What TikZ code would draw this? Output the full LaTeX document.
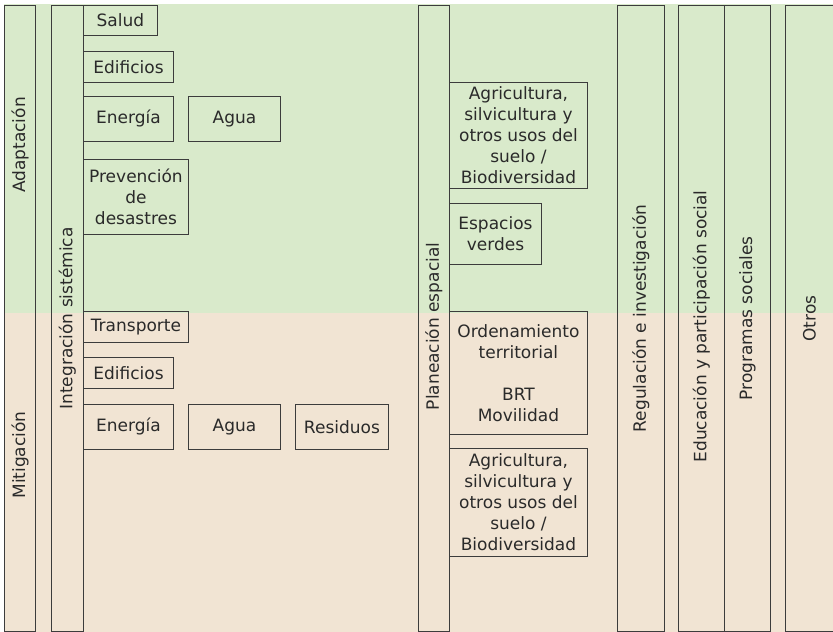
\documentclass[tikz,border=0pt]{standalone}
\usepackage{fontspec}
\setmainfont{DejaVu Sans}
\usetikzlibrary{positioning,calc}
\definecolor{adaptgreen}{HTML}{D9EACB}
\definecolor{mitigbeige}{HTML}{F1E4D3}
\definecolor{linegray}{HTML}{3C3C3C}
\definecolor{textgray}{HTML}{2A2A2A}

\begin{document}
\begin{tikzpicture}[x=1pt,y=-1pt,
  bar/.style={draw=linegray,line width=0.9pt,anchor=north west,inner sep=0pt,
    minimum width=#1,minimum height=626pt},
  item/.style={draw=linegray,line width=0.9pt,anchor=north west,inner sep=0pt,
    align=center,text=textgray,font=\fontsize{17}{21}\selectfont},
  side label/.style={rotate=90,inner sep=0pt,text=textgray,
    font=\fontsize{17}{21}\selectfont}]

\useasboundingbox (0,0) rectangle (833,632);
\fill[adaptgreen] (4,4) rectangle (833,313);
\fill[mitigbeige] (4,313) rectangle (833,632);

% columns
\node[bar=31pt](Adap) at (4,5) {};
\node[bar=32pt](IntSis) at (51,5) {};
\node[bar=31pt](Plan) at (418,5) {};
\node[bar=47pt](Reg) at (617,5) {};
\node[bar=46pt](Edu) at (678,5) {};
\node[bar=46pt](Prog) at (724,5) {};
\node[bar=48pt](Otros) at (785,5) {};

\node[side label](AdapL) at (20,145) {Adaptación};
\node[side label](MitL) at (20,455) {Mitigación};
\node[side label](IntSisL) at (IntSis.center) {Integración sistémica};
\node[side label](PlanL) at ($(Plan.center)+(0,8)$) {Planeación espacial};
\node[side label](RegL) at (Reg.center) {Regulación e investigación};
\node[side label](EduL) at ($(Edu.center)+(0,8)$) {Educación y participación social};
\node[side label](ProgL) at (Prog.center) {Programas sociales};
\node[side label](OtrosL) at (Otros.center) {Otros};

% adaptacion
\node[item,minimum width=74pt,minimum height=30pt](Salud) at (83,5) {Salud};
\node[item,minimum width=90pt,minimum height=31pt](EdifA) at (83,51) {Edificios};
\node[item,minimum width=90pt,minimum height=45pt](EnerA) at (83,96) {Energía};
\node[item,minimum width=92pt,minimum height=45pt](AguaA) at (188,96) {Agua};
\node[item,minimum width=105pt,minimum height=75pt](Prev) at (83,159) {Prevención\\de\\desastres};
\node[item,minimum width=138pt,minimum height=106pt](AgriA) at (449,82)
  {Agricultura,\\silvicultura y\\otros usos del\\suelo /\\Biodiversidad};
\node[item,minimum width=92pt,minimum height=61pt](Esp) at (449,203) {Espacios\\verdes};

% mitigacion
\node[item,minimum width=105pt,minimum height=31pt](Transp) at (83,311) {Transporte};
\node[item,minimum width=90pt,minimum height=31pt](EdifM) at (83,357) {Edificios};
\node[item,minimum width=90pt,minimum height=45pt](EnerM) at (83,404) {Energía};
\node[item,minimum width=92pt,minimum height=45pt](AguaM) at (188,404) {Agua};
\node[item,minimum width=93pt,minimum height=45pt](Resid) at (295,404) {Residuos};
\node[item,minimum width=138pt,minimum height=123pt](Orden) at (449,311)
  {Ordenamiento\\territorial\\[21pt]BRT\\Movilidad};
\node[item,minimum width=138pt,minimum height=108pt](AgriM) at (449,448)
  {Agricultura,\\silvicultura y\\otros usos del\\suelo /\\Biodiversidad};
\end{tikzpicture}
\end{document}
